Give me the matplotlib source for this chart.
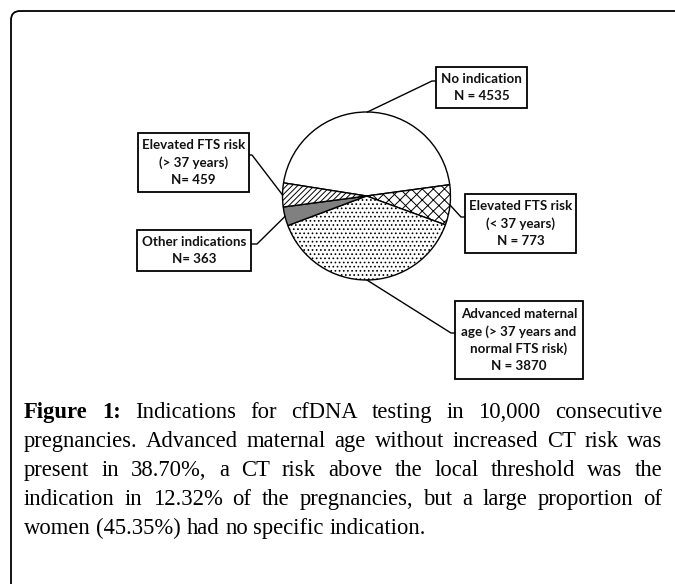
import numpy as np
import matplotlib.pyplot as plt
from matplotlib.patches import Rectangle, FancyBboxPatch

# data
labels = ["No indication", "Elevated FTS risk (< 37 years)",
          "Advanced maternal age (> 37 years and normal FTS risk)",
          "Other indications", "Elevated FTS risk (> 37 years)"]
counts = [4535, 773, 3870, 363, 459]
box_texts = ["No indication\nN = 4535",
             "Elevated FTS risk\n(< 37 years)\nN = 773",
             "Advanced maternal\nage (> 37 years and\nnormal FTS risk)\nN = 3870",
             "Other indications\nN= 363",
             "Elevated FTS risk\n(> 37 years)\nN= 459"]
fills = ["white", "white", "white", "#808080", "white"]
hatches = [None, "xxx", "....", None, "//////"]

caption_lines = [
    "Indications for cfDNA testing in 10,000 consecutive",
    "pregnancies. Advanced maternal age without increased CT risk was",
    "present in 38.70%, a CT risk above the local threshold was the",
    "indication in 12.32% of the pregnancies, but a large proportion of",
    "women (45.35%) had no specific indication.",
]

W, H = 675, 584
plt.rcParams['hatch.linewidth'] = 0.7

fig = plt.figure(figsize=(W / 100, H / 100), dpi=100)
ax = fig.add_axes([0, 0, 1, 1])


def Y(y):
    # pixel row (from top) -> data y
    return H - y


wedges, _ = ax.pie(counts, startangle=171, counterclock=False,
                   center=(366.5, Y(196)), radius=84, colors=fills,
                   hatch=hatches,
                   wedgeprops=dict(edgecolor='black', linewidth=1.0))
ax.set_xlim(0, W)
ax.set_ylim(0, H)
ax.set_aspect('auto')
ax.axis('off')

# outer frame (rounded corner top-left, runs off the picture)
frame = FancyBboxPatch((11, -20), W + 20, Y(11) + 20,
                       boxstyle="round,pad=0,rounding_size=9",
                       fc='none', ec='black', lw=1.3)
ax.add_patch(frame)

# label boxes: (left, top, right, bottom), leader start on box, bend point
boxes = [
    ((436, 67, 527, 108), (436, 81), (432, 81)),
    ((465, 194, 576, 253), (465, 217), (461, 217)),
    ((455, 301, 583, 379), (455, 333), (451, 333)),
    ((137, 230, 251, 271), (251, 244), (257, 244)),
    ((138, 133, 249, 192), (249, 155), (252, 155)),
]

for w, txt, (bx, start, bend) in zip(wedges, box_texts, boxes):
    l, t, r, b = bx
    ax.add_patch(Rectangle((l, Y(b)), r - l, b - t, fc='white', ec='black',
                           lw=1.3, zorder=3))
    ax.text((l + r) / 2, Y((t + b) / 2), txt, ha='center', va='center',
            fontsize=9.6, family='Lato', fontweight='bold',
            linespacing=1.5, color='#111111', zorder=4)
    mid = np.deg2rad((w.theta1 + w.theta2) / 2)
    px = w.center[0] + w.r * np.cos(mid)
    py = w.center[1] + w.r * np.sin(mid)
    ax.plot([start[0], bend[0], px], [Y(start[1]), Y(bend[1]), py],
            color='black', lw=1.0, zorder=2)

# caption, justified like the source
fig.canvas.draw()
renderer = fig.canvas.get_renderer()
x0, x1 = 24, 662
cap_size = 16.3
baselines = [418, 447, 476, 505, 534]


def width_of(s, **kw):
    t = ax.text(0, 0, s, fontsize=cap_size, **kw)
    bb = t.get_window_extent(renderer)
    t.remove()
    return bb.width


serif = dict(family='Liberation Serif')
bold = dict(family='Liberation Serif', fontweight='bold')
for i, line in enumerate(caption_lines):
    words = line.split(' ')
    items = [(wd, serif) for wd in words]
    if i == 0:
        items = [("Figure", bold), ("1:", bold)] + items
    widths = [width_of(wd, **kw) for wd, kw in items]
    if i < len(caption_lines) - 1:
        gap = (x1 - x0 - sum(widths)) / (len(items) - 1)
    else:
        gap = width_of("a b", **serif) - width_of("ab", **serif)
    x = x0
    for (wd, kw), wdt in zip(items, widths):
        ax.text(x, Y(baselines[i]), wd, fontsize=cap_size, ha='left',
                va='baseline', **kw)
        x += wdt + gap

plt.savefig("out.png", dpi=100)
